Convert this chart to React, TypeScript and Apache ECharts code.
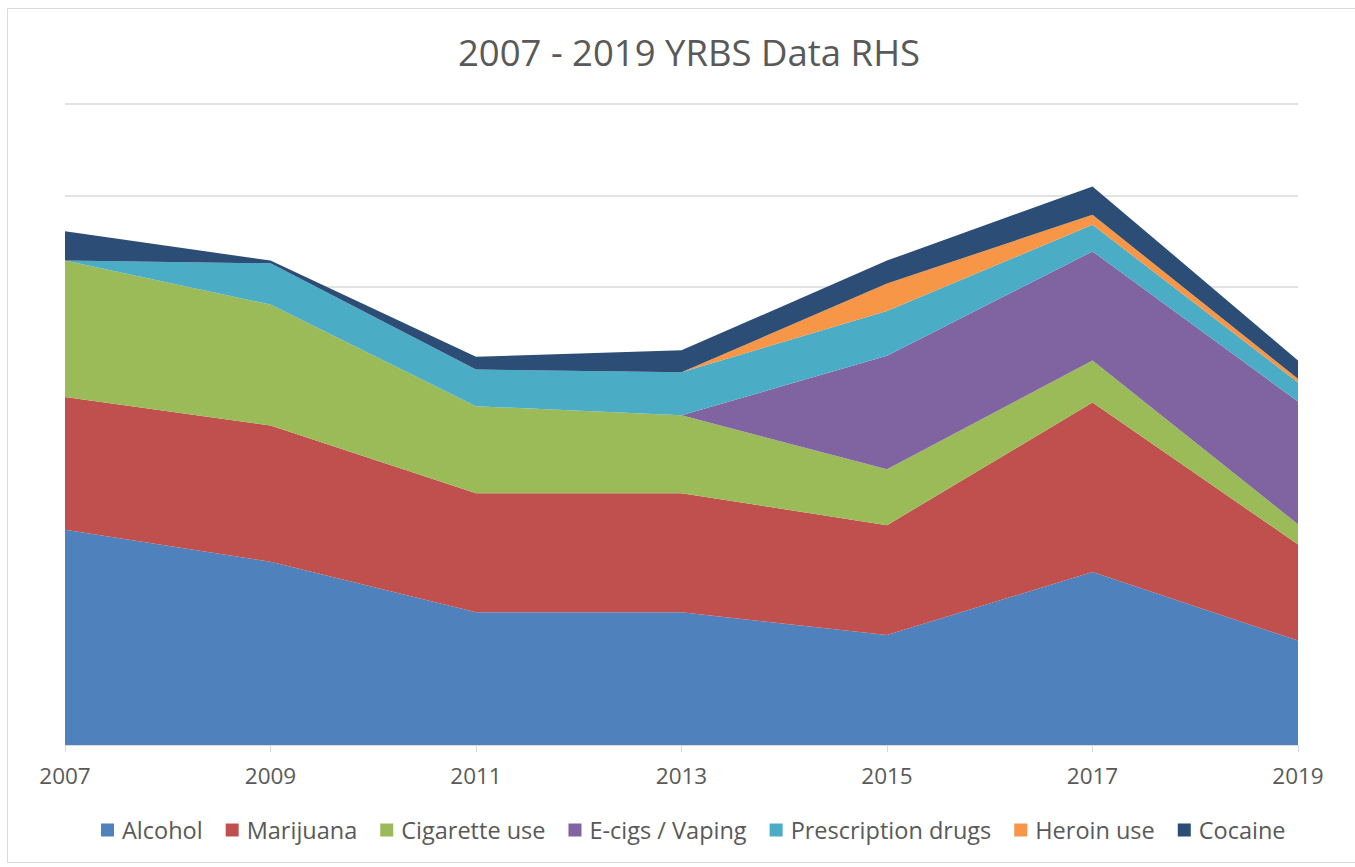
import React, { useEffect, useRef } from "react";
import * as echarts from "echarts";

const years = ["2007", "2009", "2011", "2013", "2015", "2017", "2019"];
const alcohol = [23.5, 20.0, 14.5, 14.5, 12.0, 18.9, 11.4];
const marijuana = [14.5, 14.9, 13.0, 13.0, 12.0, 18.5, 10.5];
const cigarettes = [14.9, 13.2, 9.5, 8.5, 6.1, 4.6, 2.2];
const ecigs = [0, 0, 0, 0, 12.4, 11.9, 13.4];
const prescription = [0, 4.5, 4.0, 4.7, 4.9, 2.9, 2.1];
const heroin = [0, 0, 0, 0, 3.0, 1.1, 0.4];
const cocaine = [3.2, 0.3, 1.4, 2.4, 2.5, 3.1, 2.0];

const seriesDefs = [
  { name: "Alcohol", data: alcohol, color: "#4f81bd" },
  { name: "Marijuana", data: marijuana, color: "#c0504d" },
  { name: "Cigarette use", data: cigarettes, color: "#9bbb59" },
  { name: "E-cigs / Vaping", data: ecigs, color: "#8064a2" },
  { name: "Prescription drugs", data: prescription, color: "#4bacc6" },
  { name: "Heroin use", data: heroin, color: "#f79646" },
  { name: "Cocaine", data: cocaine, color: "#2c4d75" },
];

const FONT = "'Open Sans', 'Noto Sans', sans-serif";
const TEXT = "#595959";

export default function App() {
  const ref = useRef<HTMLDivElement>(null);
  useEffect(() => {
    if (!ref.current) return;
    const chart = echarts.init(ref.current, null, { renderer: "svg" });
    chart.setOption({
      animation: false,
      backgroundColor: "#ffffff",
      title: {
        text: "2007 - 2019 YRBS Data RHS",
        left: 684,
        textAlign: "center",
        top: 28,
        textStyle: { fontFamily: FONT, fontSize: 36.5, fontWeight: "normal", color: TEXT },
      },
      graphic: [
        {
          type: "rect",
          shape: { x: 7.5, y: 8.5, width: 1400, height: 854 },
          style: { fill: "none", stroke: "#d9d9d9", lineWidth: 1 },
          silent: true,
        },
      ],
      legend: {
        left: 96,
        top: 813,
        itemWidth: 13,
        itemHeight: 13,
        itemGap: 23,
        icon: "rect",
        textStyle: { fontFamily: FONT, fontSize: 23.5, color: TEXT, padding: [0, 0, 0, 3] },
        data: seriesDefs.map((s) => s.name),
      },
      grid: { left: 65, right: 57, top: 104, bottom: 122, containLabel: false },
      xAxis: {
        type: "category",
        data: years,
        boundaryGap: false,
        axisLine: { show: true, lineStyle: { color: "#d9d9d9", width: 1 } },
        axisTick: { show: true, length: 7, lineStyle: { color: "#d9d9d9" } },
        axisLabel: { fontFamily: FONT, fontSize: 22.5, color: TEXT, margin: 19 },
      },
      yAxis: {
        type: "value",
        min: 0,
        max: 70,
        interval: 10,
        axisLabel: { show: false },
        axisLine: { show: false },
        axisTick: { show: false },
        splitLine: { lineStyle: { color: "#d9d9d9", width: 1.5 } },
      },
      series: seriesDefs.map((s) => ({
        name: s.name,
        type: "line",
        stack: "total",
        data: s.data,
        symbol: "none",
        showSymbol: false,
        lineStyle: { width: 0 },
        areaStyle: { color: s.color, opacity: 1 },
        itemStyle: { color: s.color },
        z: 3,
      })),
    });
    return () => chart.dispose();
  }, []);
  return (
    <div
      ref={ref}
      style={{ position: "absolute", left: 0, top: 0, width: 1355, height: 867 }}
    />
  );
}
